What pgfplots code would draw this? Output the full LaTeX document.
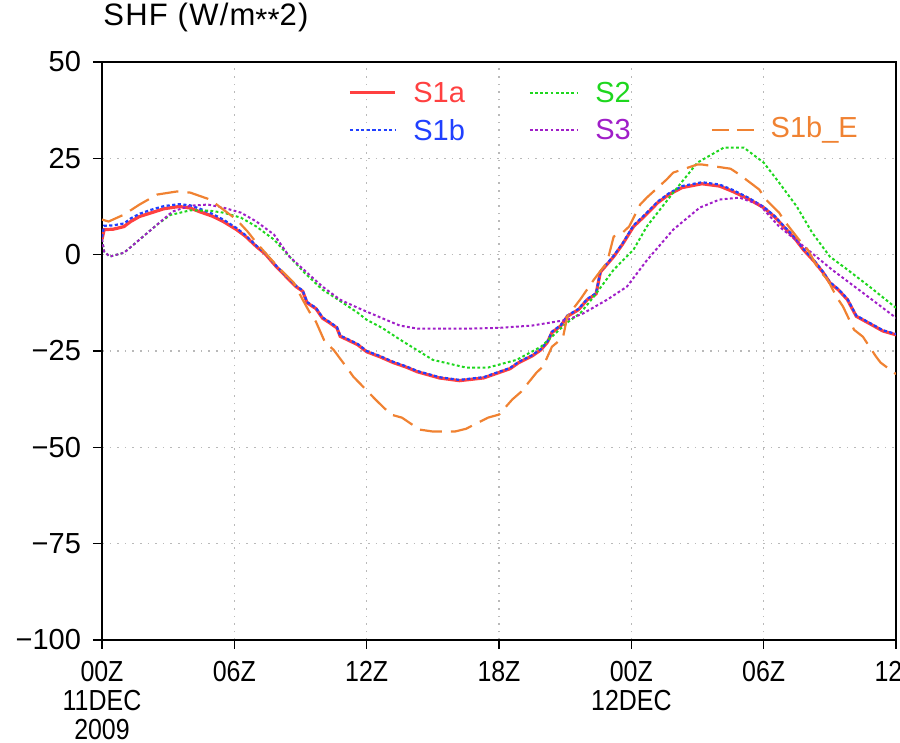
\documentclass[border=0pt]{standalone}
\usepackage{pgfplots}
\pgfplotsset{compat=1.18}
\usepackage{fontspec}
\setmainfont{Liberation Sans}
\newfontfamily\narrowfont{Liberation Sans}[FakeStretch=0.86]
\newfontfamily\titlefont{Liberation Sans}[LetterSpace=4]
\definecolor{cA}{RGB}{255,64,64}
\definecolor{cB}{RGB}{32,64,255}
\definecolor{cC}{RGB}{30,215,30}
\definecolor{cD}{RGB}{160,30,200}
\definecolor{cE}{RGB}{240,130,50}
\begin{document}
\fontsize{14.5pt}{15.5pt}\selectfont
\begin{tikzpicture}
\useasboundingbox (-51pt,-51.5pt) rectangle (399pt,320pt);
\begin{axis}[
  at={(0,0)}, anchor=south west,
  scale only axis, width=397pt, height=289pt,
  xmin=0, xmax=36, ymin=-100, ymax=50,
  xtick={0,6,12,18,24,30,36},
  xticklabels={00Z\\11DEC\\2009,06Z,12Z,18Z,00Z\\12DEC,06Z,12Z},
  xticklabel style={align=center, yshift=-1pt, font=\narrowfont\fontsize{14.5pt}{14.5pt}\selectfont},
  ytick={-100,-75,-50,-25,0,25,50},
  yticklabels={−100,−75,−50,−25,0,25,50},
  yticklabel style={xshift=-1pt},
  tick align=outside, major tick length=4.5pt,
  xtick pos=bottom, ytick pos=left,
  tick style={black, line width=0.8pt},
  axis line style={black, line width=0.9pt},
  grid=major,
  major grid style={gray!55, line width=0.6pt, dash pattern=on 0.8pt off 3pt},
  clip=true,
]
% S1a
\addplot[cA, line width=1.6pt] coordinates {
(0,4) (0.1,6.5) (0.5,6.6) (0.8,7.0) (1,7.3) (1.3,8.6) (1.7,9.9) (2.2,10.8) (2.8,11.9) (3.5,12.5) (4.0,12.1) (4.4,11.2) (5.0,10.0) (5.5,8.6) (6.1,6.5) (6.5,4.8) (7,2.1) (7.4,0.2) (7.9,-3.1) (8.4,-6.0) (8.8,-8.3) (9.1,-9.5) (9.3,-12.5) (9.7,-14.0) (10,-16.5) (10.3,-17.6) (10.65,-19) (10.8,-21.2) (11.1,-22) (11.6,-23.4) (12,-25.2) (12.6,-26.5) (13.2,-28) (13.8,-29.2) (14.3,-30.4) (15.3,-32) (16.2,-32.7) (17.3,-32) (18,-30.6) (18.5,-29.6) (18.9,-28) (19.5,-26.3) (19.9,-24.7) (20.2,-22.7) (20.4,-20.2) (20.8,-18.5) (21.1,-16) (21.6,-14.3) (22,-11.7) (22.4,-10.2) (22.6,-4.5) (23.2,-0.5) (23.6,2.7) (24.1,7.3) (24.6,10.0) (25.2,13.5) (25.7,15.6) (26.3,17.4) (27.2,18.4) (28,17.8) (28.6,16.4) (29.3,14.5) (30,12.2) (30.5,9.8) (30.9,7.3) (31.4,4.3) (31.8,1.3) (32.3,-1.8) (32.7,-4.7) (33,-7.3) (33.4,-9.2) (33.8,-11.7) (34.2,-16) (34.9,-18.2) (35.4,-19.8) (36,-20.8)
};
% S1b
\addplot[cB, line width=1.1pt, dash pattern=on 1.6pt off 1.2pt] coordinates {
(0,4.5) (0.1,7.5) (0.5,7.6) (1,8.1) (1.3,9.4) (1.7,10.6) (2.2,11.6) (2.8,12.6) (3.5,13.1) (4.0,12.8) (4.4,12.0) (5.0,10.6) (5.5,9.1) (6.1,6.9) (6.5,5.1) (7,2.3) (7.4,0.4) (7.9,-2.9) (8.4,-5.8) (8.8,-8.1) (9.1,-9.3) (9.3,-12.3) (9.7,-13.8) (10,-16.3) (10.3,-17.4) (10.65,-18.8) (10.8,-21.0) (11.1,-21.8) (11.6,-23.2) (12,-25.0) (12.6,-26.3) (13.2,-27.8) (13.8,-29.0) (14.3,-30.2) (15.3,-31.8) (16.2,-32.5) (17.3,-31.8) (18,-30.4) (18.5,-29.4) (18.9,-27.8) (19.5,-26.1) (19.9,-24.5) (20.2,-22.5) (20.4,-20.0) (20.8,-18.3) (21.1,-15.8) (21.6,-14.1) (22,-11.5) (22.4,-10.0) (22.6,-4.3) (23.2,-0.3) (23.6,2.9) (24.1,7.6) (24.6,10.3) (25.2,13.8) (25.7,15.9) (26.3,17.8) (27.2,18.8) (28,18.2) (28.6,16.8) (29.3,14.8) (30,12.4) (30.5,10.0) (30.9,7.5) (31.4,4.5) (31.8,1.5) (32.3,-1.6) (32.7,-4.5) (33,-7.1) (33.4,-9.0) (33.8,-11.5) (34.2,-15.8) (34.9,-18.0) (35.4,-19.6) (36,-20.6)
};
% S2
\addplot[cC, line width=1.0pt, dash pattern=on 1.4pt off 1.2pt] coordinates {
(0,4) (0.1,0.8) (0.35,-0.5) (1,0.5) (1.7,3.9) (2.5,7.8) (3.1,10.3) (4,11.5) (4.9,11.4) (5.5,10.9) (6.3,9.6) (7,7.3) (7.8,3.9) (8.5,-0.5) (9.2,-4.8) (10,-9.1) (10.5,-10.9) (11.6,-15.1) (12,-16.9) (12.7,-19) (13.5,-22) (15,-27.3) (16.5,-29.3) (17.5,-29.3) (18.8,-27.3) (19.9,-23.9) (21.1,-17.6) (21.7,-15.1) (22.3,-10.9) (23.2,-3.9) (24.1,1.3) (24.7,7.3) (25.9,16.1) (27,23.9) (28.2,27.8) (29.1,27.8) (30,23.9) (30.7,18.7) (31.5,12.5) (32.2,5.7) (33,-0.5) (33.8,-3.9) (34.8,-8.3) (36,-13.8)
};
% S3
\addplot[cD, line width=1.0pt, dash pattern=on 1.4pt off 1.2pt] coordinates {
(0,4) (0.1,0.8) (0.35,-0.5) (1,0.5) (1.7,3.9) (2.5,7.8) (3.2,11.2) (4,12.7) (4.8,13) (5.5,12.2) (6.3,10.9) (7,8.6) (7.8,5.2) (8.5,-0.5) (9.3,-4.7) (10,-8.3) (10.8,-11.7) (11.6,-13.8) (12.5,-16) (13.5,-18.4) (14.3,-19.2) (16.5,-19.2) (18,-19) (19.5,-18.4) (21.1,-16.9) (21.8,-15.3) (22.9,-11.7) (23.8,-8.3) (24.7,-1.5) (25.9,6.5) (27.1,12.2) (28,14.3) (28.9,14.8) (29.8,13) (30.7,7.3) (32,1.3) (33.1,-3.9) (34.5,-9.9) (36,-16.4)
};
% S1b_E
\addplot[cE, line width=1.1pt, dash pattern=on 11pt off 4.5pt] coordinates {
(0,9.1) (0.3,8.6) (1,10.4) (1.7,13) (2.5,15.6) (3.4,16.4) (4,16.1) (4.9,14.3) (5.5,11.7) (6.1,9.1) (6.6,6) (7,3.1) (7.6,-0.8) (8.1,-3.9) (8.7,-7.3) (9.1,-11.7) (9.4,-14.8) (9.7,-17.4) (10.1,-22.6) (10.5,-24.7) (11.1,-29.3) (11.4,-31.7) (12.1,-35.8) (12.4,-37.6) (13.1,-41.5) (13.6,-42.3) (14.4,-45.4) (15,-45.9) (16,-45.9) (16.5,-45.2) (17.5,-42.3) (18,-41.5) (18.6,-37.6) (19,-35.6) (19.7,-30.6) (20,-29) (20.4,-23.9) (20.9,-21.5) (21.1,-16) (21.7,-11.5) (22.3,-6.5) (22.9,-2) (23.2,4.7) (23.6,5.7) (23.9,7.3) (24.4,13) (24.7,14.8) (25.6,19.5) (25.9,21.3) (27,23.4) (27.2,23.4) (28.5,22.3) (28.9,20.8) (29.8,16.9) (30.1,14.3) (30.7,10.9) (31,8.3) (31.6,3.9) (32,1.3) (32.5,-3.9) (32.9,-6.5) (33.3,-10.9) (33.6,-13.5) (34.1,-19.5) (34.5,-21.3) (35.1,-26.5) (35.3,-28) (36,-31)
};
% legend
\draw[cA, line width=1.6pt] (axis cs:11.24,42) -- (axis cs:13.28,42);
\node[cA, anchor=west, inner sep=0pt] at (axis cs:14.1,42) {S1a};
\draw[cB, line width=1.1pt, dash pattern=on 1.6pt off 1.2pt] (axis cs:11.24,32.4) -- (axis cs:13.28,32.4);
\node[cB, anchor=west, inner sep=0pt] at (axis cs:14.1,32.4) {S1b};
\draw[cC, line width=1.0pt, dash pattern=on 1.4pt off 1.2pt] (axis cs:19.4,42) -- (axis cs:21.6,42);
\node[cC, anchor=west, inner sep=0pt] at (axis cs:22.35,42) {S2};
\draw[cD, line width=1.0pt, dash pattern=on 1.4pt off 1.2pt] (axis cs:19.4,32.4) -- (axis cs:21.6,32.4);
\node[cD, anchor=west, inner sep=0pt] at (axis cs:22.35,32.4) {S3};
\draw[cE, line width=1.1pt, dash pattern=on 8.5pt off 4pt] (axis cs:27.65,32.4) -- (axis cs:29.9,32.4);
\node[cE, anchor=west, inner sep=0pt] at (axis cs:30.3,32.4) {S1b\_E};
\end{axis}
\node[anchor=base west, inner sep=0pt, font=\titlefont\fontsize{15.5pt}{16pt}\selectfont] at (0.5pt,307pt) {SHF (W/m\raisebox{-0.3ex}{*}\raisebox{-0.3ex}{*}2)};
\end{tikzpicture}
\end{document}
